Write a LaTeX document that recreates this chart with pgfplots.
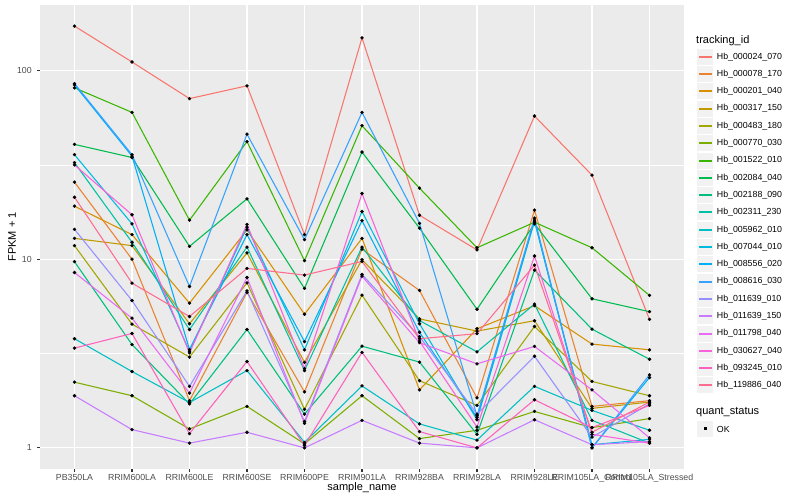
\documentclass[border=0pt]{standalone}
\usepackage{pgfplots}
\pgfplotsset{compat=1.18}
\usepackage{pgfplotstable}
\usepackage{fontspec}
\setmainfont{Liberation Sans}

% ggplot hue palette, 20 levels
\definecolor{c1}{HTML}{F8766D}
\definecolor{c2}{HTML}{EA8331}
\definecolor{c3}{HTML}{D89000}
\definecolor{c4}{HTML}{C09B00}
\definecolor{c5}{HTML}{A3A500}
\definecolor{c6}{HTML}{7CAE00}
\definecolor{c7}{HTML}{39B600}
\definecolor{c8}{HTML}{00BB4E}
\definecolor{c9}{HTML}{00BF7D}
\definecolor{c10}{HTML}{00C1A3}
\definecolor{c11}{HTML}{00BFC4}
\definecolor{c12}{HTML}{00BAE0}
\definecolor{c13}{HTML}{00B0F6}
\definecolor{c14}{HTML}{35A2FF}
\definecolor{c15}{HTML}{9590FF}
\definecolor{c16}{HTML}{C77CFF}
\definecolor{c17}{HTML}{E76BF3}
\definecolor{c18}{HTML}{FA62DB}
\definecolor{c19}{HTML}{FF62BC}
\definecolor{c20}{HTML}{FF6C91}
\definecolor{panelbg}{HTML}{EBEBEB}
\definecolor{keybg}{HTML}{F2F2F2}
\definecolor{ticktext}{HTML}{4D4D4D}
\definecolor{tickcol}{HTML}{333333}

% FPKM + 1, one row per sample, one column per tracking_id
\pgfplotstableread{
x  s1   s2    s3    s4    s5    s6    s7    s8    s9    s10   s11   s12   s13   s14   s15   s16   s17   s18   s19   s20
0  172  25.6  19.1  12.9  11.8  2.23  81    40.6  9.7   32.5  3.79  35.8  84    85.3  14.4  1.89  8.5   31.6  3.38  21.3
1  111  10.0  13.5  11.8  4.53  1.89  60    34.6  3.53  12.3  2.54  15.4  35.2  35.8  6.04  1.25  4.87  17.2  4.04  7.47
2  71   1.78  5.85  4.55  3.03  1.26  16.1  11.7  1.71  4.24  1.74  3.25  3.32  7.17  2.12  1.06  1.95  3.19  1.19  4.97
3  83   6.67  14.3  10.8  7.5   1.66  42    20.9  4.24  11.6  2.57  14.8  13.5  46    6.8   1.21  8.0   15.3  2.87  8.94
4  13.5 1.98  5.11  2.84  1.60  1.05  9.82  7.0   1.51  2.57  1.07  3.31  3.66  12.7  1.38  1.0   1.35  2.63  1.03  8.24
5  149  11.3  12.9  9.94  6.45  1.89  51    37    3.46  11.6  2.13  17.9  16.0  60    8.3   1.40  8.13  22.3  3.21  9.73
6  17.1 6.83  2.03  4.83  2.27  1.12  23.8  14.6  2.85  4.73  1.34  4.55  4.1   15.5  3.89  1.06  3.61  3.68  1.22  3.79
7  11.2 1.84  4.28  4.16  1.68  1.24  11.5  5.43  1.18  3.23  1.10  1.41  1.45  1.48  1.51  1.0   2.79  1.29  1.0   4.03
8  57.4 18.2  5.67  4.72  4.40  1.56  15.7  15.4  8.75  5.78  2.12  15.9  16.1  16.5  3.06  1.41  3.45  10.4  1.80  9.31
9  27.9 1.66  3.55  1.62  2.25  1.28  11.5  6.17  4.26  1.40  1.58  1.04  1.0   1.0   1.14  1.04  2.03  1.18  1.28  1.21
10 4.8  1.78  3.31  1.75  1.89  1.43  6.43  5.27  2.95  1.06  1.24  1.11  2.36  2.44  1.71  1.08  1.13  1.06  1.68  1.75
}\fpkm

\begin{document}
\begin{tikzpicture}
\path[use as bounding box] (0,0) rectangle (800pt,500pt);
\begin{axis}[
  at={(40pt,31pt)}, anchor=south west,
  scale only axis, width=644pt, height=464pt,
  xmin=-0.6, xmax=10.6,
  ymode=log, ymin=0.7731, ymax=222.5,
  axis background/.style={fill=panelbg},
  axis line style={draw=none},
  xtick={0,...,10},
  xticklabels={PB350LA,RRIM600LA,RRIM600LE,RRIM600SE,RRIM600PE,RRIM901LA,RRIM928BA,RRIM928LA,RRIM928LE,RRIM105LA\_Control,RRIM105LA\_Stressed},
  ytick={1,10,100}, yticklabels={1,10,100},
  minor ytick={3.1623,31.623},
  grid=both,
  major grid style={white, line width=1.07pt},
  minor grid style={white, line width=0.53pt},
  xtick pos=left, ytick pos=left,
  tick align=outside,
  major tick length=2.75pt, minor tick length=0pt,
  tick style={tickcol, line width=1.07pt},
  ticklabel style={font=\fontsize{8.8}{10}\selectfont, text=ticktext},
  xticklabel style={yshift=1pt},
  yticklabel style={xshift=-2pt},
  xlabel={sample\_name}, ylabel={FPKM + 1},
  label style={font=\fontsize{11}{13}\selectfont},
  xlabel style={at={(axis description cs:0.5,-0.0409)}, anchor=center},
  ylabel style={at={(axis description cs:-0.0435,0.5)}, anchor=center},
]
\pgfplotsinvokeforeach{1,...,20}{
  \addplot[c#1, line width=1.07pt] table[x=x, y=s#1] {\fpkm};
}
\pgfplotsinvokeforeach{1,...,20}{
  \addplot[only marks, mark=*, mark size=1.5pt, black] table[x=x, y=s#1] {\fpkm};
}
\end{axis}

% legend: tracking_id
\node[anchor=west, inner sep=0pt, font=\fontsize{11}{13}\selectfont] at (696pt,459.3pt) {tracking\_id};
\foreach \c/\n [count=\i from 0] in {
  c1/Hb\_000024\_070, c2/Hb\_000078\_170, c3/Hb\_000201\_040, c4/Hb\_000317\_150,
  c5/Hb\_000483\_180, c6/Hb\_000770\_030, c7/Hb\_001522\_010, c8/Hb\_002084\_040,
  c9/Hb\_002188\_090, c10/Hb\_002311\_230, c11/Hb\_005962\_010, c12/Hb\_007044\_010,
  c13/Hb\_008556\_020, c14/Hb\_008616\_030, c15/Hb\_011639\_010, c16/Hb\_011639\_150,
  c17/Hb\_011798\_040, c18/Hb\_030627\_040, c19/Hb\_093245\_010, c20/Hb\_119886\_040} {
  \pgfmathsetmacro\yy{500-(56.7+17.3*\i)}
  \pgfmathsetmacro\yl{round(\yy)}
  \fill[keybg] (697pt,\yl pt-8pt) rectangle (713pt,\yl pt+8pt);
  \fill[\c] (698.5pt,\yl pt-1pt) rectangle (711.5pt,\yl pt+1pt);
  \node[anchor=west, inner sep=0pt, font=\fontsize{8.8}{10}\selectfont] at (716.7pt,\yy pt) {\n};
}

% legend: quant_status
\node[anchor=west, inner sep=0pt, font=\fontsize{11}{13}\selectfont] at (696pt,87.7pt) {quant\_status};
\fill[keybg] (697pt,63pt) rectangle (713pt,79pt);
\fill[black] (703.5pt,69.5pt) rectangle (706.5pt,72.5pt);
\node[anchor=west, inner sep=0pt, font=\fontsize{8.8}{10}\selectfont] at (716.7pt,71pt) {OK};
\end{tikzpicture}
\end{document}
